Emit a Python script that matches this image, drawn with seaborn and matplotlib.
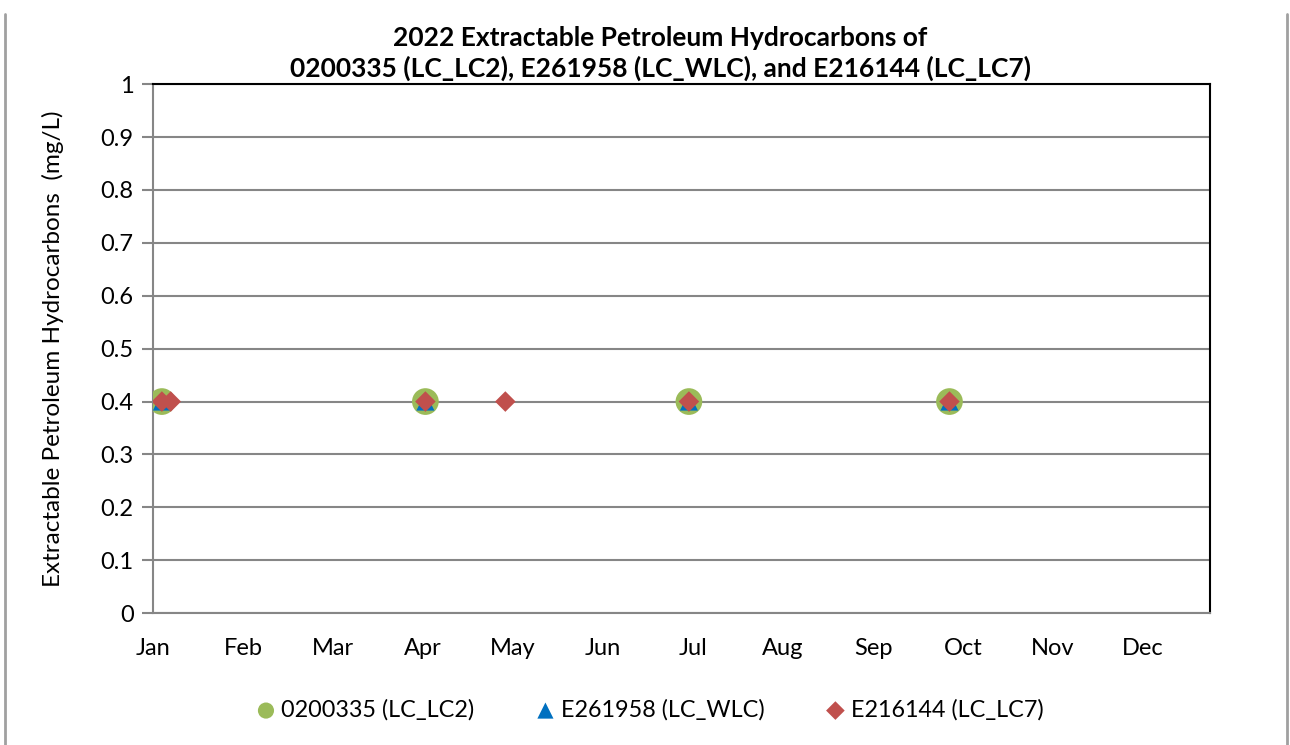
import pandas as pd
import numpy as np
import matplotlib
matplotlib.use("Agg")
import matplotlib.pyplot as plt
import seaborn as sns

# data (sample dates in 2022, value mg/L)
lc2_dates = ["2022-01-04", "2022-04-03", "2022-07-01", "2022-09-27"]
lc2_values = [0.4, 0.4, 0.4, 0.4]
wlc_dates = ["2022-01-04", "2022-04-03", "2022-07-01", "2022-09-27"]
wlc_values = [0.4, 0.4, 0.4, 0.4]
lc7_dates = ["2022-01-04", "2022-01-07", "2022-04-03", "2022-04-30", "2022-07-01", "2022-09-27"]
lc7_values = [0.4, 0.4, 0.4, 0.4, 0.4, 0.4]
months = ["Jan", "Feb", "Mar", "Apr", "May", "Jun", "Jul", "Aug", "Sep", "Oct", "Nov", "Dec"]

def day_of_year(dates):
    return pd.to_datetime(pd.Series(dates)).dt.dayofyear - 1

sns.set_style("white")
plt.rcParams['font.family'] = ['Lato', 'DejaVu Sans']
plt.rcParams['text.color'] = 'black'
plt.rcParams['axes.labelcolor'] = 'black'

fig = plt.figure(figsize=(12.9, 7.45), dpi=100)
ax = fig.add_axes([0.1186, 0.177, 0.8194, 0.710])

# name, dates, values, marker, colour, size in plot, size in legend
series = [
    ("0200335 (LC_LC2)", lc2_dates, lc2_values, "o", "#9BBB59", 370, 135),
    ("E261958 (LC_WLC)", wlc_dates, wlc_values, "^", "#0070C0", 170, 135),
    ("E216144 (LC_LC7)", lc7_dates, lc7_values, "D", "#C0504D", 110, 90),
]
for name, d, v, m, c, s, _ in series:
    df = pd.DataFrame({"day": day_of_year(d), "value": v})
    sns.scatterplot(data=df, x="day", y="value", marker=m, color=c, s=s,
                    edgecolor="none", ax=ax, label=name, zorder=3)

ax.set_xlim(0, 357)
ax.set_ylim(0, 1)
ax.set_yticks(np.arange(0, 1.01, 0.1))
ax.set_yticklabels(["0"] + [f"{t:.1f}" for t in np.arange(0.1, 0.95, 0.1)] + ["1"])
ax.set_xticks(np.arange(12) * 30.4)
ax.set_xticklabels(months)
ax.yaxis.grid(True, color="#868686", linewidth=1.5)
ax.set_axisbelow(True)

ax.tick_params(axis="x", direction="in", length=8, width=1.5, color="#868686",
               labelcolor="black", pad=18, labelsize=17)
ax.tick_params(axis="y", direction="out", length=8, width=1.5, color="#868686",
               labelcolor="black", pad=6, labelsize=17, left=True)
for side in ["left", "bottom"]:
    ax.spines[side].set_color("#868686")
    ax.spines[side].set_linewidth(1.5)
for side in ["top", "right"]:
    ax.spines[side].set_color("black")
    ax.spines[side].set_linewidth(1.5)

ax.set_xlabel("")
ax.set_ylabel("Extractable Petroleum Hydrocarbons  (mg/L)", fontsize=17.5, labelpad=26)
ax.set_title("2022 Extractable Petroleum Hydrocarbons of\n"
             "0200335 (LC_LC2), E261958 (LC_WLC), and E216144 (LC_LC7)",
             fontsize=19, fontweight="bold", pad=5, linespacing=1.3, x=0.48)

leg = ax.legend(loc="center", bbox_to_anchor=(0.469, -0.183), ncol=3,
                frameon=False, fontsize=16.8, handlelength=1.0,
                handletextpad=0.15, columnspacing=2.55)
for h, item in zip(leg.legend_handles, series):
    h.set_sizes([item[6]])

# page border lines like the source sheet
fig.add_artist(plt.Line2D([0.004, 0.004], [0, 0.981], color="#A0A0A0", linewidth=2))
fig.add_artist(plt.Line2D([0.998, 0.998], [0, 0.981], color="#A0A0A0", linewidth=2))

fig.savefig("out.png", dpi=100)
